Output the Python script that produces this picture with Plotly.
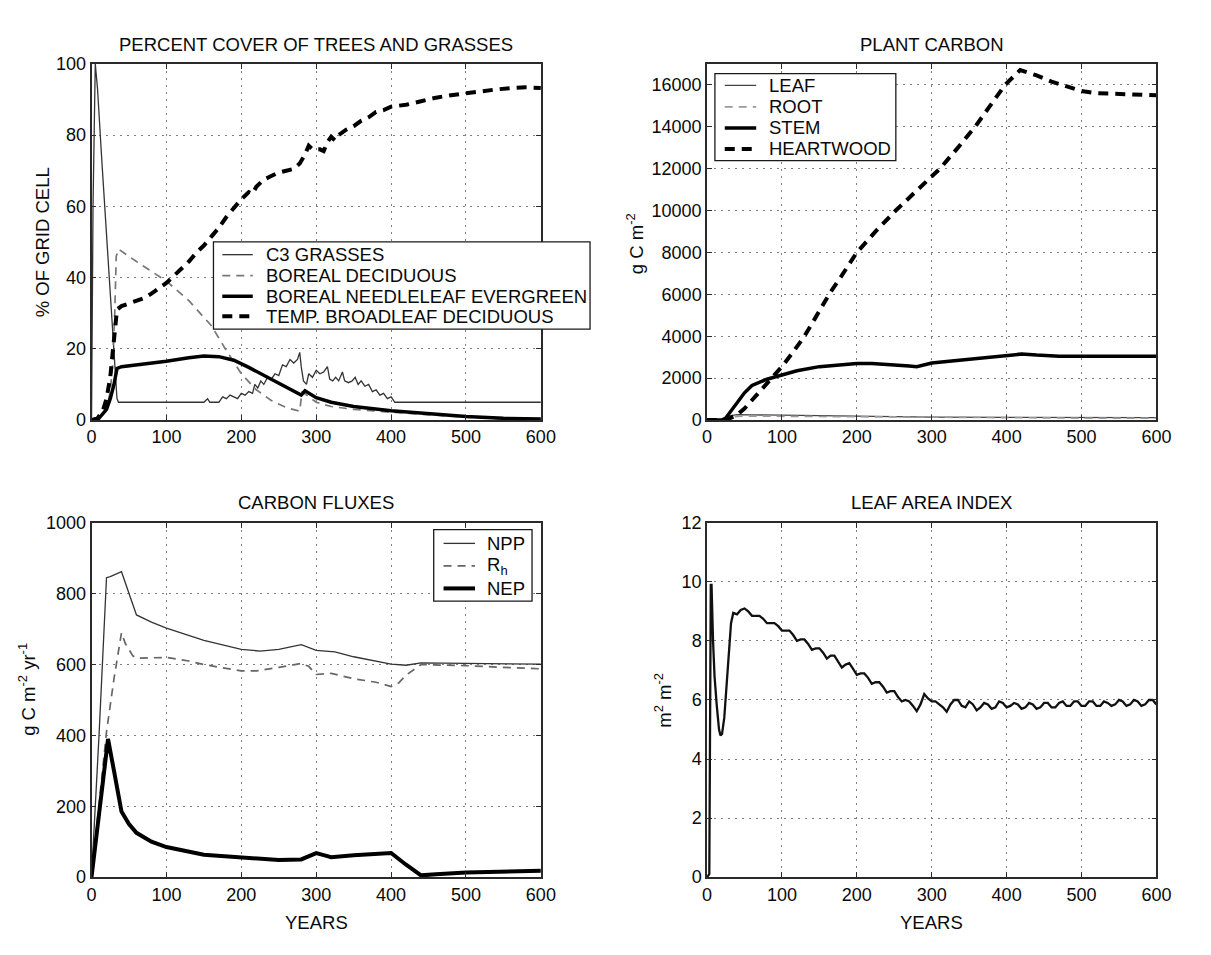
import plotly.graph_objects as go

# ---------- PERCENT COVER OF TREES AND GRASSES ----------
c3_years = [0, 2, 5, 8, 14, 20, 26, 30, 34, 36, 60, 100, 150, 155, 158, 170, 175, 180, 185, 190,
            195, 200, 205, 210, 215, 218, 222, 226, 230, 235, 240, 245, 250, 255, 260, 265, 270, 275,
            278, 280, 283, 287, 290, 295, 300, 305, 310, 315, 318, 322, 326, 330, 335, 338, 343, 348,
            352, 356, 360, 365, 370, 375, 380, 385, 390, 395, 400, 405, 450, 500, 550, 600]
c3_pct = [0, 60, 100, 93, 72, 52, 32, 19, 6, 5, 5, 5, 5, 6, 5, 5, 6.5, 6, 7, 6.5,
          6, 7.5, 7, 8, 7.5, 10, 9, 11, 10, 12, 11.5, 13, 12.5, 15.5, 15, 17, 16, 17,
          19, 15, 11, 10, 13, 12, 14, 13, 13.5, 15, 11.5, 11, 12, 11, 13.5, 11, 10.5, 11,
          12, 10, 11, 9.5, 10, 8, 8.5, 7, 7.5, 6, 6.5, 5, 5, 5, 5, 5]

bd_years = [0, 10, 20, 25, 28, 31, 33, 36, 60, 100, 130, 160, 180, 200, 220, 240, 260, 278,
            281, 290, 300, 320, 350, 400, 450, 500, 550, 600]
bd_pct = [0, 0.5, 3, 8, 15, 30, 46, 48, 44.5, 39, 33.5, 26.5, 19.5, 13, 8.5, 5.5, 3.5, 2.5,
          8, 6.5, 5, 3.8, 3, 2.2, 1.5, 0.8, 0.4, 0.2]

ne_years = [0, 10, 20, 25, 30, 34, 40, 60, 100, 130, 150, 170, 190, 210, 230, 250, 270, 280,
            285, 300, 320, 350, 400, 450, 500, 550, 600]
ne_pct = [0, 0.5, 3, 6, 10, 14.5, 15, 15.5, 16.5, 17.5, 18, 17.8, 16.8, 14.8, 12.6, 10.3, 8, 7,
          8.2, 6.3, 5, 3.8, 2.6, 1.8, 1, 0.5, 0.3]

tb_years = [0, 8, 15, 20, 25, 28, 31, 34, 40, 50, 60, 70, 80, 90, 100, 110, 120, 130, 140, 150,
            160, 170, 180, 190, 200, 210, 215, 220, 230, 240, 250, 260, 270, 278, 285, 290, 295,
            305, 310, 315, 320, 325, 330, 340, 350, 360, 370, 380, 390, 400, 420, 440, 460, 480,
            500, 520, 540, 560, 580, 600]
tb_pct = [0, 0.5, 2.5, 6, 12, 18, 26, 31, 32, 32.8, 33.5, 34.2, 35.5, 37, 38.5, 40.5, 42.5, 44.5,
          47, 49, 51.5, 54, 57, 59.5, 62, 64, 63.5, 65.5, 67.5, 68.5, 69.5, 70, 70.5, 72, 74.5,
          77, 76, 76, 75.5, 78, 79.5, 78.5, 80, 81.5, 82.5, 84, 85, 86.5, 87, 88, 88.5, 89.5,
          90.5, 91.2, 91.8, 92.3, 92.8, 93.2, 93.4, 93.2]

# ---------- PLANT CARBON ----------
leaf_years = [0, 20, 30, 40, 60, 100, 150, 200, 300, 400, 500, 600]
leaf_c = [0, 30, 200, 260, 250, 230, 200, 170, 140, 125, 120, 120]

root_years = [0, 20, 30, 40, 60, 100, 150, 200, 300, 400, 500, 600]
root_c = [0, 20, 120, 180, 190, 180, 160, 140, 115, 100, 95, 95]

stem_years = [0, 20, 25, 30, 40, 50, 60, 70, 80, 100, 120, 150, 180, 200, 220, 250, 270, 280,
              290, 300, 330, 360, 400, 420, 440, 470, 500, 600]
stem_c = [0, 0, 100, 350, 850, 1300, 1650, 1800, 1950, 2150, 2350, 2550, 2650, 2700, 2700, 2650,
          2580, 2550, 2650, 2720, 2830, 2950, 3080, 3150, 3100, 3050, 3050, 3050]

heart_years = [0, 25, 30, 40, 50, 60, 70, 80, 88, 100, 115, 130, 145, 163, 180, 200, 225, 252,
               280, 311, 335, 358, 380, 398, 418, 440, 460, 480, 500, 520, 550, 600]
heart_c = [0, 0, 80, 250, 550, 950, 1400, 1750, 2050, 2550, 3250, 4000, 4900, 6000, 6900, 8000,
           9000, 10000, 10950, 12000, 13000, 14000, 15100, 16000, 16700, 16450, 16150, 15900,
           15700, 15600, 15550, 15500]

# ---------- CARBON FLUXES ----------
npp_years = [0, 10, 20, 25, 40, 50, 60, 80, 100, 150, 200, 225, 250, 280, 300, 325, 350, 400,
             420, 440, 500, 550, 600]
npp = [0, 400, 845, 848, 862, 800, 740, 720, 703, 668, 643, 638, 643, 656, 640, 636, 622, 601,
       598, 605, 604, 603, 601]

rh_years = [0, 10, 20, 30, 40, 45, 55, 60, 80, 100, 130, 150, 200, 220, 250, 280, 290, 300, 320,
            350, 380, 400, 410, 420, 440, 500, 550, 600]
rh = [0, 200, 410, 560, 690, 660, 625, 618, 620, 620, 610, 600, 582, 582, 592, 603, 595, 572, 575,
      560, 550, 538, 548, 570, 600, 597, 592, 588]

nep_years = [0, 10, 22, 30, 40, 50, 60, 80, 100, 150, 200, 250, 280, 290, 300, 310, 320, 350, 400,
             420, 440, 460, 500, 600]
nep = [0, 170, 390, 300, 185, 150, 125, 100, 85, 63, 55, 48, 50, 58, 68, 62, 56, 62, 68, 35, 5, 8,
       13, 18]

# ---------- LEAF AREA INDEX ----------
lai_years = [0, 3, 5, 6, 8, 10, 13, 16, 18, 20, 23, 26, 29, 32,
             35, 40, 45, 50, 55, 60, 65, 70, 75, 80, 85, 90, 95, 100, 105, 110, 115, 120, 125,
             130, 135, 140, 145, 150, 155, 160, 165, 170, 175, 180, 185, 190, 195, 200, 205, 210,
             215, 220, 225, 230, 235, 240, 245, 250, 255, 260, 265, 270, 275, 280, 285, 290, 295,
             300, 305, 310, 315, 320, 325, 330, 335, 340, 345, 350, 355, 360, 365, 370, 375, 380,
             385, 390, 395, 400, 405, 410, 415, 420, 425, 430, 435, 440, 445, 450, 455, 460, 465,
             470, 475, 480, 485, 490, 495, 500, 505, 510, 515, 520, 525, 530, 535, 540, 545, 550,
             555, 560, 565, 570, 575, 580, 585, 590, 595, 600]
lai = [0.0, 0.1, 9.9, 9.9, 8.0, 6.8, 5.8, 5.0, 4.8, 4.85, 5.4, 6.4, 7.6, 8.6,
       8.95, 8.9, 9.05, 9.1, 9.0, 8.85, 8.85, 8.85, 8.75, 8.6, 8.6, 8.6, 8.5, 8.35, 8.35, 8.35,
       8.2, 8.0, 8.05, 8.05, 7.9, 7.7, 7.75, 7.75, 7.6, 7.4, 7.5, 7.5, 7.3, 7.1, 7.2, 7.25, 7.05,
       6.85, 6.9, 6.9, 6.75, 6.55, 6.6, 6.6, 6.45, 6.25, 6.3, 6.3, 6.1, 5.95, 6.0, 5.95, 5.8,
       5.62, 5.85, 6.2, 6.05, 5.95, 5.95, 5.85, 5.75, 5.6, 5.85, 6.0, 6.0, 5.8, 5.75, 5.95, 5.85,
       5.65, 5.75, 5.9, 5.85, 5.7, 5.75, 5.95, 5.9, 5.75, 5.8, 5.9, 5.85, 5.7, 5.75, 5.9, 5.85,
       5.7, 5.75, 5.9, 5.9, 5.75, 5.75, 5.9, 5.95, 5.8, 5.8, 5.95, 5.95, 5.8, 5.8, 5.95, 5.95,
       5.8, 5.8, 5.95, 5.9, 5.8, 5.85, 6.0, 5.95, 5.8, 5.85, 6.0, 5.95, 5.8, 5.85, 6.0, 6.0, 5.85]

# axis ticks
year_ticks = [0, 100, 200, 300, 400, 500, 600]
cover_ticks = [0, 20, 40, 60, 80, 100]
carbon_ticks = [0, 2000, 4000, 6000, 8000, 10000, 12000, 14000, 16000]
flux_ticks = [0, 200, 400, 600, 800, 1000]
lai_ticks = [0, 2, 4, 6, 8, 10, 12]

# Page is 1211x955; the default 8px body margin surrounds the figure,
# so the figure itself is 16px smaller each way and positions below are
# given in page pixels, shifted by that margin.
PAGE_MARGIN = 8
W, H = 1211 - 2 * PAGE_MARGIN, 955 - 2 * PAGE_MARGIN
FONT = "Liberation Sans, Arial, Helvetica, sans-serif"
INK = "#0a0a0a"
THICK_DASH = "10px,7px"
THIN_DASH = "8px,6px"

fig = go.Figure()
shapes = []
annotations = []


def px_x(x):
    return (x - PAGE_MARGIN) / W


def px_y(y):
    return 1 - (y - PAGE_MARGIN) / H


def line(x, y, name, panel, color, width, dash="solid"):
    fig.add_trace(go.Scatter(
        x=x, y=y, name=name, mode="lines",
        xaxis="x" + panel, yaxis="y" + panel,
        line=dict(color=color, width=width, dash=dash),
        showlegend=False, hoverinfo="skip",
    ))
    return dict(name=name, color=color, width=width, dash=dash)


def legend_box(entries, left, top, right, bottom, rows, sample_l, sample_r, text_x, size=18.5):
    # framed key: white box, line samples and labels
    shapes.append(dict(type="rect", xref="paper", yref="paper",
                       x0=px_x(left), x1=px_x(right), y0=px_y(bottom), y1=px_y(top),
                       fillcolor="white", line=dict(color="#1a1a1a", width=1.3), layer="above"))
    for e, ry in zip(entries, rows):
        shapes.append(dict(type="line", xref="paper", yref="paper",
                           x0=px_x(sample_l), x1=px_x(sample_r), y0=px_y(ry), y1=px_y(ry),
                           line=dict(color=e["color"], width=e["width"], dash=e["dash"]),
                           layer="above"))
        annotations.append(dict(x=px_x(text_x), y=px_y(ry), xref="paper", yref="paper",
                                text=e["name"], showarrow=False, xanchor="left",
                                yanchor="middle",
                                font=dict(family=FONT, size=size, color=INK)))


cover_keys = [
    line(c3_years, c3_pct, "C3 GRASSES", "", "#333333", 1.3),
    line(bd_years, bd_pct, "BOREAL DECIDUOUS", "", "#777777", 1.7, THIN_DASH),
    line(ne_years, ne_pct, "BOREAL NEEDLELEAF EVERGREEN", "", "#000000", 3.5),
    line(tb_years, tb_pct, "TEMP. BROADLEAF DECIDUOUS", "", "#000000", 4.0, THICK_DASH),
]
carbon_keys = [
    line(leaf_years, leaf_c, "LEAF", "2", "#444444", 1.3),
    line(root_years, root_c, "ROOT", "2", "#9a9a9a", 1.7, THIN_DASH),
    line(stem_years, stem_c, "STEM", "2", "#000000", 3.5),
    line(heart_years, heart_c, "HEARTWOOD", "2", "#000000", 4.0, THICK_DASH),
]
flux_keys = [
    line(npp_years, npp, "NPP", "3", "#333333", 1.3),
    line(rh_years, rh, "R<sub>h</sub>", "3", "#666666", 1.7, THIN_DASH),
    line(nep_years, nep, "NEP", "3", "#000000", 4.0),
]
line(lai_years, lai, "LAI", "4", "#111111", 2.3)

legend_box(cover_keys, 220, 245, 603, 334, [258, 279.5, 300.5, 321], 229, 260, 271)
legend_box(carbon_keys, 730, 73, 914, 162, [85, 107, 128.5, 150], 740, 772, 783)
legend_box(flux_keys, 444, 539, 544, 612, [553, 576, 599], 454, 486, 496)

# plot-area rectangles in page pixels: left, right, top, bottom
PANELS = {
    "": (96, 553, 63, 427),
    "2": (722, 1179, 63, 427),
    "3": (96, 553, 532, 894),
    "4": (722, 1179, 532, 894),
}
Y_SETUP = {
    "": ([0, 100], cover_ticks),
    "2": ([0, 17000], carbon_ticks),
    "3": ([0, 1000], flux_ticks),
    "4": ([0, 12], lai_ticks),
}

axis_style = dict(
    showline=True, linecolor="#2a2a2a", linewidth=1.6, mirror="ticks",
    ticks="inside", ticklen=5, tickwidth=1.2, tickcolor="#2a2a2a",
    showgrid=True, gridcolor="#7f7f7f", gridwidth=1.2, griddash="2px,5px",
    zeroline=False, tickfont=dict(family=FONT, size=18, color=INK),
    fixedrange=True,
)

layout_axes = {}
for key, (l, r, t, b) in PANELS.items():
    yr, yt = Y_SETUP[key]
    layout_axes["xaxis" + key] = dict(
        domain=[px_x(l), px_x(r)], anchor="y" + key, range=[0, 600],
        tickvals=year_ticks, tickformat="d", **axis_style)
    layout_axes["yaxis" + key] = dict(
        domain=[px_y(b), px_y(t)], anchor="x" + key, range=yr,
        tickvals=yt, tickformat="d", **axis_style)


def text(x, y, s, angle=0, size=18.5):
    return dict(x=px_x(x), y=px_y(y), xref="paper", yref="paper", text=s,
                showarrow=False, textangle=angle, xanchor="center", yanchor="middle",
                font=dict(family=FONT, size=size, color=INK))


annotations += [
    text(324.5, 43, "PERCENT COVER OF TREES AND GRASSES"),
    text(950.5, 43, "PLANT CARBON"),
    text(324.5, 511, "CARBON FLUXES"),
    text(950.5, 511, "LEAF AREA INDEX"),
    text(324.5, 940, "YEARS"),
    text(950.5, 940, "YEARS"),
    text(47, 245, "% OF GRID CELL", -90),
    text(649, 247, "g C m<sup>-2</sup>", -90),
    text(31, 702, "g C m<sup>-2</sup> yr<sup>-1</sup>", -90),
    text(677, 713, "m<sup>2</sup> m<sup>-2</sup>", -90),
]

fig.update_layout(
    width=W, height=H, autosize=False,
    margin=dict(l=0, r=0, t=0, b=0),
    paper_bgcolor="white", plot_bgcolor="white",
    font=dict(family=FONT, size=18, color=INK),
    showlegend=False,
    annotations=annotations,
    shapes=shapes,
    **layout_axes,
)

fig.write_html("out.html")
